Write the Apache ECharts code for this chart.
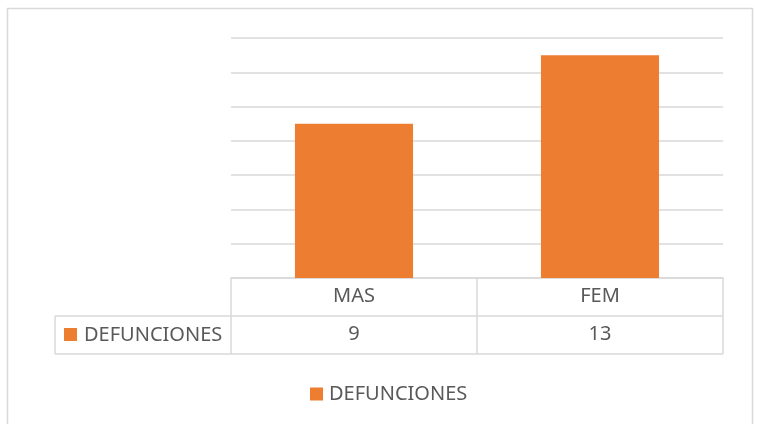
<!DOCTYPE html>
<html>
<head>
<meta charset="utf-8">
<script src="https://cdn.jsdelivr.net/npm/echarts@6/dist/echarts.min.js"></script>
<style>
html,body{margin:0;padding:0;background:#fff;}
#c{width:757px;height:424px;}
</style>
</head>
<body>
<div id="c"></div>
<script>
const categories = ['MAS', 'FEM'];
const seriesName = 'DEFUNCIONES';
const values = [9, 13];
const yTicks = [0, 2, 4, 6, 8, 10, 12, 14];

const FONT = 'Noto Sans';
const FS = 20;
const TEXT = '#595959';
const LINE = '#d9d9d9';
const ORANGE = '#ed7d31';

const chart = echarts.init(document.getElementById('c'));
chart.setOption({
  animation: false,
  backgroundColor: '#fff',
  grid: { left: 231, right: 34, top: 38, bottom: 146 },
  legend: {
    data: [seriesName], left: 305, top: 379,
    icon: 'rect', itemWidth: 13, itemHeight: 13, itemGap: 8,
    textStyle: { fontFamily: FONT, fontSize: FS, color: TEXT, padding: [0, 0, 0, 1] }
  },
  xAxis: [
    {
      type: 'category', data: categories, position: 'bottom',
      axisLine: { show: true, lineStyle: { color: LINE, width: 1.5 } },
      axisTick: { show: true, interval: 0, length: 76, lineStyle: { color: LINE, width: 1.5 } },
      axisLabel: { margin: 8, fontFamily: FONT, fontSize: FS, color: TEXT }
    },
    {
      type: 'category', data: values.map(String), position: 'bottom', offset: 38,
      axisLine: { show: false }, axisTick: { show: false },
      axisLabel: { margin: 8, fontFamily: FONT, fontSize: FS, color: TEXT }
    }
  ],
  yAxis: {
    type: 'value', min: yTicks[0], max: yTicks[yTicks.length - 1], interval: yTicks[1] - yTicks[0],
    axisLabel: { show: false }, axisLine: { show: false }, axisTick: { show: false },
    splitLine: { lineStyle: { color: LINE, width: 1.5 } }
  },
  series: [{
    name: seriesName, type: 'bar', data: values, barWidth: '48%',
    itemStyle: { color: ORANGE }
  }],
  graphic: [
    { type: 'rect', shape: { x: 7.5, y: 8.5, width: 745, height: 430 }, style: { fill: null, stroke: LINE, lineWidth: 1.5 }, silent: true },
    { type: 'line', shape: { x1: 55, y1: 316, x2: 723, y2: 316 }, style: { stroke: LINE, lineWidth: 1.5 } },
    { type: 'line', shape: { x1: 55, y1: 354, x2: 723, y2: 354 }, style: { stroke: LINE, lineWidth: 1.5 } },
    { type: 'line', shape: { x1: 55, y1: 316, x2: 55, y2: 354 }, style: { stroke: LINE, lineWidth: 1.5 } },
    { type: 'rect', shape: { x: 64, y: 328, width: 13, height: 13 }, style: { fill: ORANGE } },
    { type: 'text', x: 84, y: 335, style: { text: seriesName, fontFamily: FONT, fontSize: FS, fill: TEXT, verticalAlign: 'middle' } }
  ]
});
</script>
</body>
</html>
